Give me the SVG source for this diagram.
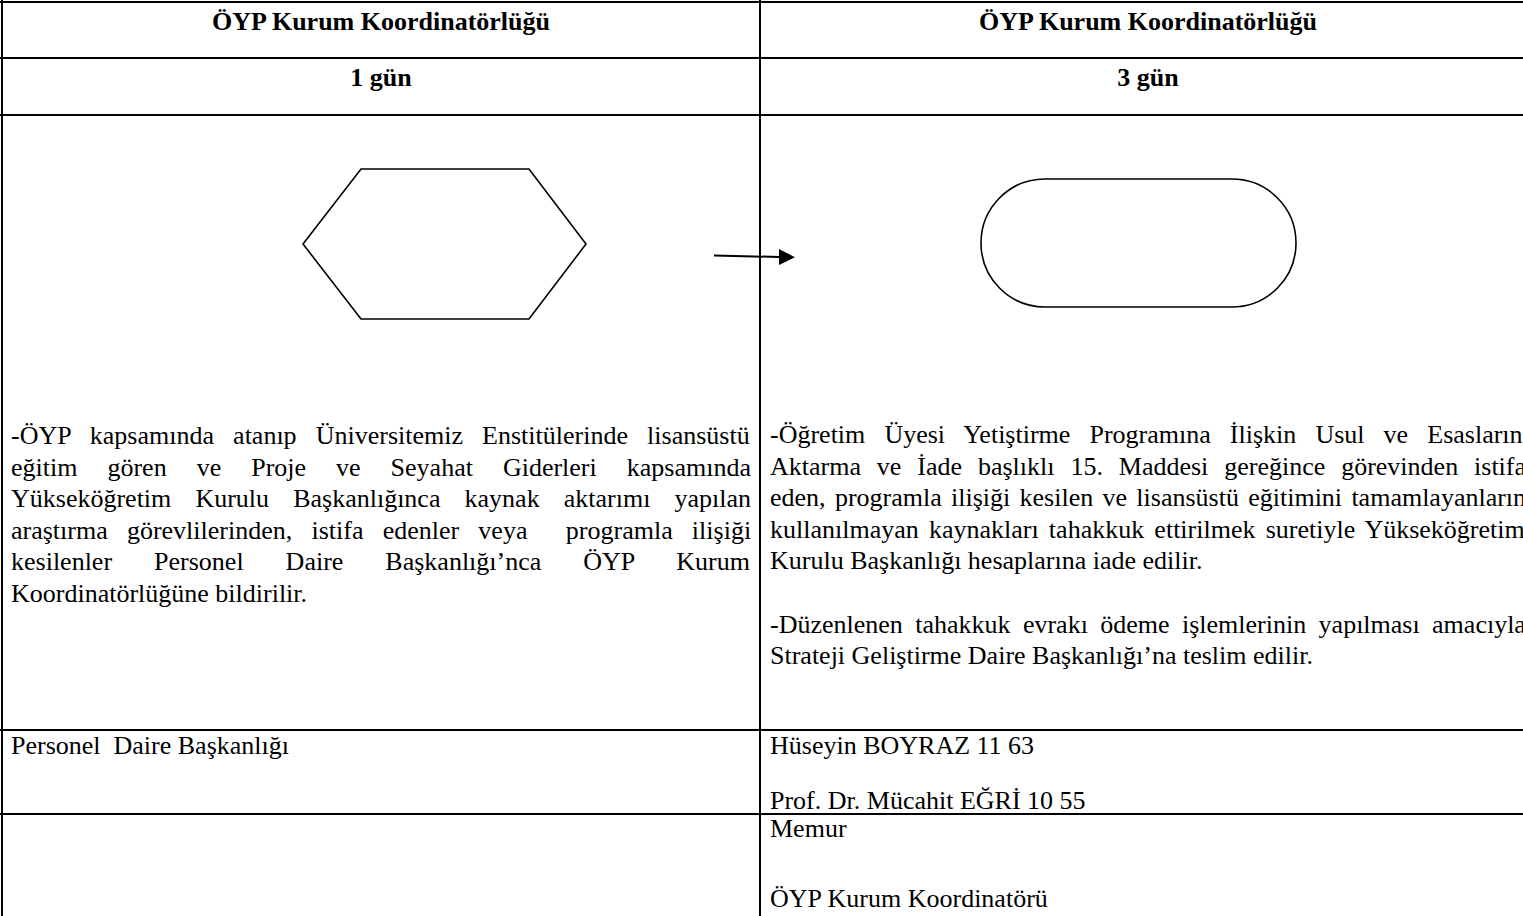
<svg xmlns="http://www.w3.org/2000/svg" width="1523" height="916" viewBox="0 0 1523 916">
<defs>
<style>
.grid{stroke:#000;stroke-width:2;fill:none}
.shape{fill:#fff;stroke:#000;stroke-width:1.6}
.t{font-family:"Liberation Serif","Times New Roman",serif;font-size:26px;fill:#000;white-space:pre}
.h{font-weight:bold;text-anchor:middle}
.conn{stroke:#000;stroke-width:2;fill:none}
</style>
</defs>
<rect x="0" y="0" width="1523" height="916" fill="#fff"/>
<g id="table">
<line class="grid" x1="0" y1="2" x2="1523" y2="2"/>
<line class="grid" x1="0" y1="58" x2="1523" y2="58"/>
<line class="grid" x1="0" y1="115" x2="1523" y2="115"/>
<line class="grid" x1="0" y1="730" x2="1523" y2="730"/>
<line class="grid" x1="0" y1="814" x2="1523" y2="814"/>
<line class="grid" x1="2" y1="0" x2="2" y2="916"/>
<line class="grid" x1="760" y1="0" x2="760" y2="916"/>
</g>
<g id="headers">
<text class="t h" x="381" y="30">ÖYP Kurum Koordinatörlüğü</text>
<text class="t h" x="1148" y="30">ÖYP Kurum Koordinatörlüğü</text>
<text class="t h" x="381" y="86">1 gün</text>
<text class="t h" x="1148" y="86">3 gün</text>
</g>
<g id="node-hexagon">
<polygon class="shape" points="303,244 361,169 529,169 586,244 529,319 361,319"/>
</g>
<g id="node-terminator">
<rect class="shape" x="981" y="179" width="315" height="128" rx="64" ry="64"/>
</g>
<g id="connectors">
<line class="conn" x1="714" y1="255.5" x2="779" y2="257"/>
<polygon points="779,249 795,257.2 779,265" fill="#000"/>
</g>
<g id="left-description">
<text class="t" x="11" y="444" style="word-spacing:12.6px">-ÖYP kapsamında atanıp Üniversitemiz Enstitülerinde lisansüstü</text>
<text class="t" x="11" y="475.6" style="word-spacing:23.5px">eğitim gören ve Proje ve Seyahat Giderleri kapsamında</text>
<text class="t" x="11" y="507.2" style="word-spacing:17.6px">Yükseköğretim Kurulu Başkanlığınca kaynak aktarımı yapılan</text>
<text class="t" x="11" y="538.8" style="word-spacing:12.7px">araştırma görevlilerinden, istifa edenler veya  programla ilişiği</text>
<text class="t" x="11" y="570.4" style="word-spacing:35.5px">kesilenler Personel Daire Başkanlığı’nca ÖYP Kurum</text>
<text class="t" x="11" y="602">Koordinatörlüğüne bildirilir.</text>
</g>
<g id="right-description">
<text class="t" x="770" y="443" style="word-spacing:12.6px">-Öğretim Üyesi Yetiştirme Programına İlişkin Usul ve Esasların</text>
<text class="t" x="770" y="474.6" style="word-spacing:9.4px">Aktarma ve İade başlıklı 15. Maddesi gereğince görevinden istifa</text>
<text class="t" x="770" y="506.2" style="word-spacing:2.8px">eden, programla ilişiği kesilen ve lisansüstü eğitimini tamamlayanların</text>
<text class="t" x="770" y="537.8" style="word-spacing:3.7px">kullanılmayan kaynakları tahakkuk ettirilmek suretiyle Yükseköğretim</text>
<text class="t" x="770" y="569.4">Kurulu Başkanlığı hesaplarına iade edilir.</text>
<text class="t" x="770" y="632.6" style="word-spacing:5.9px">-Düzenlenen tahakkuk evrakı ödeme işlemlerinin yapılması amacıyla</text>
<text class="t" x="770" y="664.2">Strateji Geliştirme Daire Başkanlığı’na teslim edilir.</text>
</g>
<g id="responsible">
<text class="t" x="11" y="754">Personel  Daire Başkanlığı</text>
<text class="t" x="770" y="754">Hüseyin BOYRAZ 11 63</text>
<text class="t" x="770" y="809">Prof. Dr. Mücahit EĞRİ 10 55</text>
</g>
<g id="staff">
<text class="t" x="770" y="837">Memur</text>
<text class="t" x="770" y="907">ÖYP Kurum Koordinatörü</text>
</g>
</svg>
